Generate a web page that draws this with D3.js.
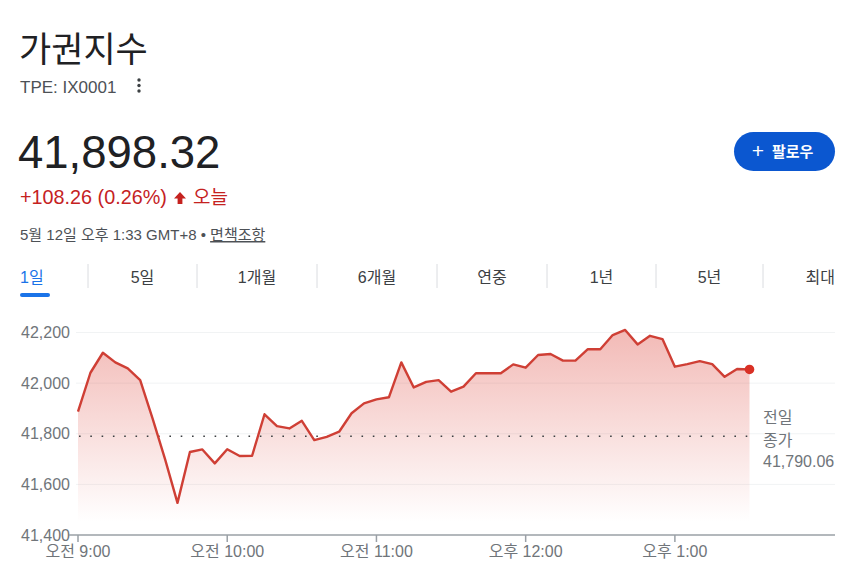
<!DOCTYPE html>
<html lang="ko">
<head>
<meta charset="utf-8">
<script src="https://cdn.jsdelivr.net/npm/d3@7"></script>
<style>
  body { margin: 0; background: #fff; }
  svg text { font-family: "Liberation Sans", Arial, "Noto Sans CJK KR", sans-serif; }
</style>
</head>
<body>
<div id="chart"></div>
<script>
// ---- data ----
const times = [
  "09:00","09:05","09:10","09:15","09:20","09:25","09:30","09:35","09:40","09:45","09:50","09:55",
  "10:00","10:05","10:10","10:15","10:20","10:25","10:30","10:35","10:40","10:45","10:50","10:55",
  "11:00","11:05","11:10","11:15","11:20","11:25","11:30","11:35","11:40","11:45","11:50","11:55",
  "12:00","12:05","12:10","12:15","12:20","12:25","12:30","12:35","12:40","12:45","12:50","12:55",
  "13:00","13:05","13:10","13:15","13:20","13:25","13:30"
];
const prices = [
  41887, 42041, 42120, 42082, 42058, 42012, 41860, 41700, 41527, 41728, 41738, 41683,
  41739, 41712, 41713, 41877, 41830, 41821, 41851, 41775, 41788, 41808, 41881, 41920,
  41936, 41944, 42082, 41983, 42005, 42012, 41966, 41986, 42039, 42039, 42039, 42074,
  42061, 42111, 42115, 42089, 42089, 42134, 42134, 42190, 42210, 42153, 42187, 42174,
  42065, 42075, 42087, 42075, 42025, 42056, 42054
];
const previousClose = 41790.06;
const yTicks = [41400, 41600, 41800, 42000, 42200];
const xTickTimes = ["09:00", "10:00", "11:00", "12:00", "13:00"];
const xTickLabels = ["오전 9:00", "오전 10:00", "오전 11:00", "오후 12:00", "오후 1:00"];
const tabLabels = ["1일", "5일", "1개월", "6개월", "연중", "1년", "5년", "최대"];

const title = "가권지수";
const ticker = "TPE: IX0001";
const lastPrice = "41,898.32";
const changeText = "+108.26 (0.26%)";
const dateText = "5월 12일 오후 1:33 GMT+8 • ";
const disclaimer = "면책조항";

// ---- setup ----
const width = 848, height = 571;
const parseTime = d3.timeParse("%H:%M");
const series = times.map((t, i) => ({ t: parseTime(t), v: prices[i] }));

const svg = d3.select("#chart").append("svg")
  .attr("width", width)
  .attr("height", height);

const red = "#cf3f35";
const grey = "#70757a";

// header
svg.append("text").attr("x", 19).attr("y", 62)
  .attr("font-size", 35).attr("fill", "#202124")
  .style("font-family", "'Noto Sans CJK KR', sans-serif")
  .text(title);

svg.append("text").attr("x", 20).attr("y", 93)
  .attr("font-size", 17).attr("fill", "#4d5156")
  .text(ticker);

svg.selectAll(".kebab").data([80, 85.5, 91]).enter()
  .append("circle").attr("cx", 139).attr("cy", d => d).attr("r", 1.7)
  .attr("fill", "#3c4043");

svg.append("text").attr("x", 18).attr("y", 168)
  .attr("font-size", 45.5).attr("fill", "#202124")
  .text(lastPrice);

svg.append("text").attr("x", 20).attr("y", 204)
  .attr("font-size", 19.8).attr("fill", "#c5221f")
  .text(changeText);

svg.append("path")
  .attr("d", "M180,192 L186,198.5 L182.4,198.5 L182.4,204 L177.6,204 L177.6,198.5 L174,198.5 Z")
  .attr("fill", "#c5221f");

svg.append("text").attr("x", 193).attr("y", 204)
  .attr("font-size", 19).attr("fill", "#c5221f")
  .style("font-family", "'Noto Sans CJK KR', sans-serif")
  .text("오늘");

const dateLine = svg.append("text").attr("x", 20).attr("y", 240)
  .attr("font-size", 15).attr("fill", "#4d5156");
dateLine.append("tspan").text(dateText);
dateLine.append("tspan").attr("text-decoration", "underline").text(disclaimer);

// follow button
svg.append("rect").attr("x", 734).attr("y", 132).attr("width", 101).attr("height", 39)
  .attr("rx", 19.5).attr("fill", "#0b57d0");
svg.append("text").attr("x", 758).attr("y", 158)
  .attr("text-anchor", "middle").attr("font-size", 21)
  .attr("fill", "#fff").text("+");
svg.append("text").attr("x", 772).attr("y", 157)
  .attr("font-size", 15).attr("font-weight", "bold")
  .attr("fill", "#fff").text("팔로우");

// tabs
const tabEdges = [20, 88, 197, 317, 437, 547, 656, 763, 835];
svg.selectAll(".tab").data(tabLabels).enter()
  .append("text")
  .attr("x", (d, i) => i === 0 ? tabEdges[0] : i === tabLabels.length - 1 ? tabEdges[i + 1] : (tabEdges[i] + tabEdges[i + 1]) / 2)
  .attr("y", 283)
  .attr("text-anchor", (d, i) => i === 0 ? "start" : i === tabLabels.length - 1 ? "end" : "middle")
  .attr("font-size", 16)
  .attr("fill", (d, i) => i === 0 ? "#1a73e8" : "#3c4043")
  .text(d => d);

svg.selectAll(".sep").data(tabEdges.slice(1, -1)).enter()
  .append("line")
  .attr("x1", d => d).attr("x2", d => d).attr("y1", 264).attr("y2", 288)
  .attr("stroke", "#dadce0").attr("stroke-width", 1);

svg.append("rect").attr("x", 20).attr("y", 293).attr("width", 30).attr("height", 4)
  .attr("rx", 2).attr("fill", "#1a73e8");

// ---- chart ----
const x = d3.scaleTime()
  .domain([parseTime("09:00"), parseTime("13:30")])
  .range([78, 749.5]);
const y = d3.scaleLinear()
  .domain([41400, 42200])
  .range([535, 332.5]);
const plotRight = 835;

// gridlines
svg.append("g").selectAll("line").data(yTicks.slice(1)).enter()
  .append("line")
  .attr("x1", 76).attr("x2", plotRight)
  .attr("y1", d => y(d)).attr("y2", d => y(d))
  .attr("stroke", "#f1f3f4").attr("stroke-width", 1);

// y labels
svg.append("g").selectAll("text").data(yTicks).enter()
  .append("text")
  .attr("x", 70).attr("y", d => y(d)).attr("dy", "0.35em")
  .attr("text-anchor", "end").attr("font-size", 16).attr("fill", grey)
  .text(d => d3.format(",")(d));

// area gradient
const defs = svg.append("defs");
const grad = defs.append("linearGradient").attr("id", "fillGrad")
  .attr("gradientUnits", "userSpaceOnUse")
  .attr("x1", 0).attr("x2", 0).attr("y1", y(42200)).attr("y2", y(41450));
grad.append("stop").attr("offset", 0).attr("stop-color", "#d93025").attr("stop-opacity", 0.33);
grad.append("stop").attr("offset", 1).attr("stop-color", "#d93025").attr("stop-opacity", 0);

svg.append("path").datum(series)
  .attr("fill", "url(#fillGrad)")
  .attr("d", d3.area().x(d => x(d.t)).y0(y(41400)).y1(d => y(d.v)));

// previous close
svg.append("line")
  .attr("x1", 79).attr("x2", 756)
  .attr("y1", y(previousClose)).attr("y2", y(previousClose))
  .attr("stroke", "#3c4043").attr("stroke-width", 1.6)
  .attr("stroke-dasharray", "1.6,9.7");

const pcLabel = svg.append("g").attr("font-size", 16).attr("fill", grey);
pcLabel.append("text").attr("x", 763).attr("y", 423)
  .style("font-family", "'Noto Sans CJK KR', sans-serif").text("전일");
pcLabel.append("text").attr("x", 763).attr("y", 446)
  .style("font-family", "'Noto Sans CJK KR', sans-serif").text("종가");
pcLabel.append("text").attr("x", 763).attr("y", 467)
  .text(d3.format(",.2f")(previousClose));

// line
svg.append("path").datum(series)
  .attr("fill", "none").attr("stroke", red).attr("stroke-width", 2.4)
  .attr("stroke-linejoin", "round")
  .attr("d", d3.line().x(d => x(d.t)).y(d => y(d.v)));

const last = series[series.length - 1];
svg.append("circle").attr("cx", x(last.t)).attr("cy", y(last.v)).attr("r", 4.8)
  .attr("fill", "#d93025");

// x axis
const xAxis = svg.append("g").attr("transform", `translate(0,${y(41400)})`);
xAxis.append("line").attr("x1", 69).attr("x2", plotRight)
  .attr("stroke", "#9aa0a6").attr("stroke-width", 1.5);
xAxis.selectAll(".tick").data(xTickTimes).enter()
  .append("line")
  .attr("x1", d => x(parseTime(d))).attr("x2", d => x(parseTime(d)))
  .attr("y1", 0).attr("y2", 7)
  .attr("stroke", "#9aa0a6").attr("stroke-width", 1.5);
xAxis.selectAll("text").data(xTickTimes).enter()
  .append("text")
  .attr("x", d => x(parseTime(d))).attr("y", 22)
  .attr("text-anchor", "middle").attr("font-size", 16).attr("fill", grey)
  .text((d, i) => xTickLabels[i]);
</script>
</body>
</html>
